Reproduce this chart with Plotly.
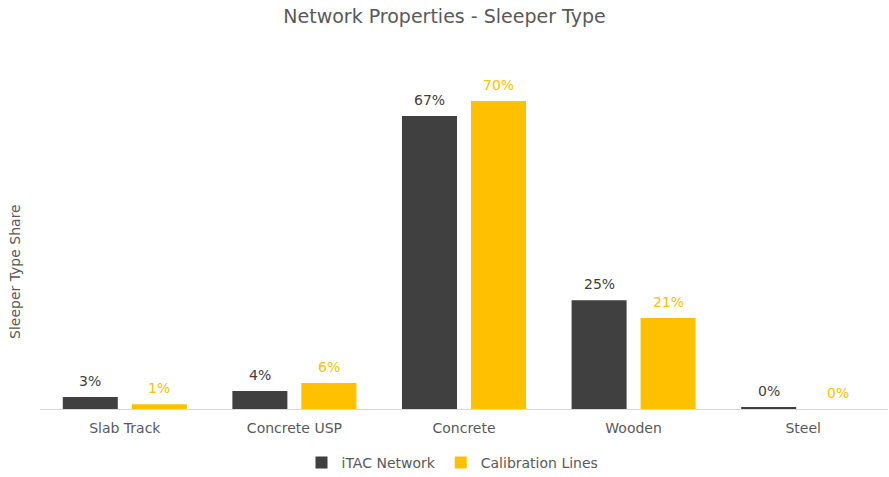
import plotly.graph_objects as go

categories = ["Slab Track", "Concrete USP", "Concrete", "Wooden", "Steel"]
itac_network = [0.027, 0.041, 0.666, 0.247, 0.004]
calibration_lines = [0.011, 0.059, 0.700, 0.207, 0.0]
series_names = ["iTAC Network", "Calibration Lines"]
colors = ["#404040", "#FFC000"]

def labels(vals):
    return [f"{round(v * 100)}%" for v in vals]

font_family = "DejaVu Sans"
W, H = 889, 477
ML, MR, MT, MB = 40, 1, 57, 68

fig = go.Figure()
annotations = []
for i, (name, vals, col) in enumerate(zip(series_names, [itac_network, calibration_lines], colors)):
    fig.add_trace(go.Bar(
        x=categories, y=vals, name=name,
        marker=dict(color=col, line=dict(width=0)),
    ))
    shift = -34.5 if i == 0 else 34.5
    for c, v, t in zip(categories, vals, labels(vals)):
        annotations.append(dict(x=c, y=v, text=t, xref="x", yref="y", showarrow=False,
                                xshift=shift, yshift=6, yanchor="bottom", xanchor="center",
                                font=dict(size=14, color=col, family=font_family)))

ph = H - MT - MB
pw = W - ML - MR
annotations.append(dict(text="Sleeper Type Share", textangle=-90,
                        x=(15 - ML) / pw, xref="paper", xanchor="center",
                        y=(H - MB - 272) / ph, yref="paper", yanchor="middle",
                        showarrow=False, font=dict(size=14, color="#595959")))

fig.update_layout(
    width=W, height=H,
    paper_bgcolor="white", plot_bgcolor="white",
    font=dict(family=font_family, color="#595959", size=14),
    title=dict(text="Network Properties - Sleeper Type", x=0.5, xanchor="center",
               y=1 - 16 / H, yanchor="middle", font=dict(size=19, color="#595959")),
    margin=dict(l=ML, r=MR, t=MT, b=MB, autoexpand=False),
    barmode="group", bargap=0.186, bargroupgap=0.203,
    legend=dict(orientation="h", x=0.5 + 8 / W, xanchor="center", xref="container",
                y=1 - 463 / H, yanchor="middle", yref="container",
                font=dict(size=14, color="#595959"), traceorder="normal", itemwidth=30),
    xaxis=dict(showline=True, linecolor="#D9D9D9", linewidth=1, ticks="outside",
               ticklen=6, tickcolor="rgba(0,0,0,0)", tickfont=dict(size=14, color="#595959"),
               automargin=False),
    yaxis=dict(range=[0, 0.8], showgrid=False, showticklabels=False, zeroline=False,
               automargin=False),
    showlegend=True,
    annotations=annotations,
)

fig.write_html("out.html", post_script="document.body.style.margin='0';",
               config={"displayModeBar": False})
